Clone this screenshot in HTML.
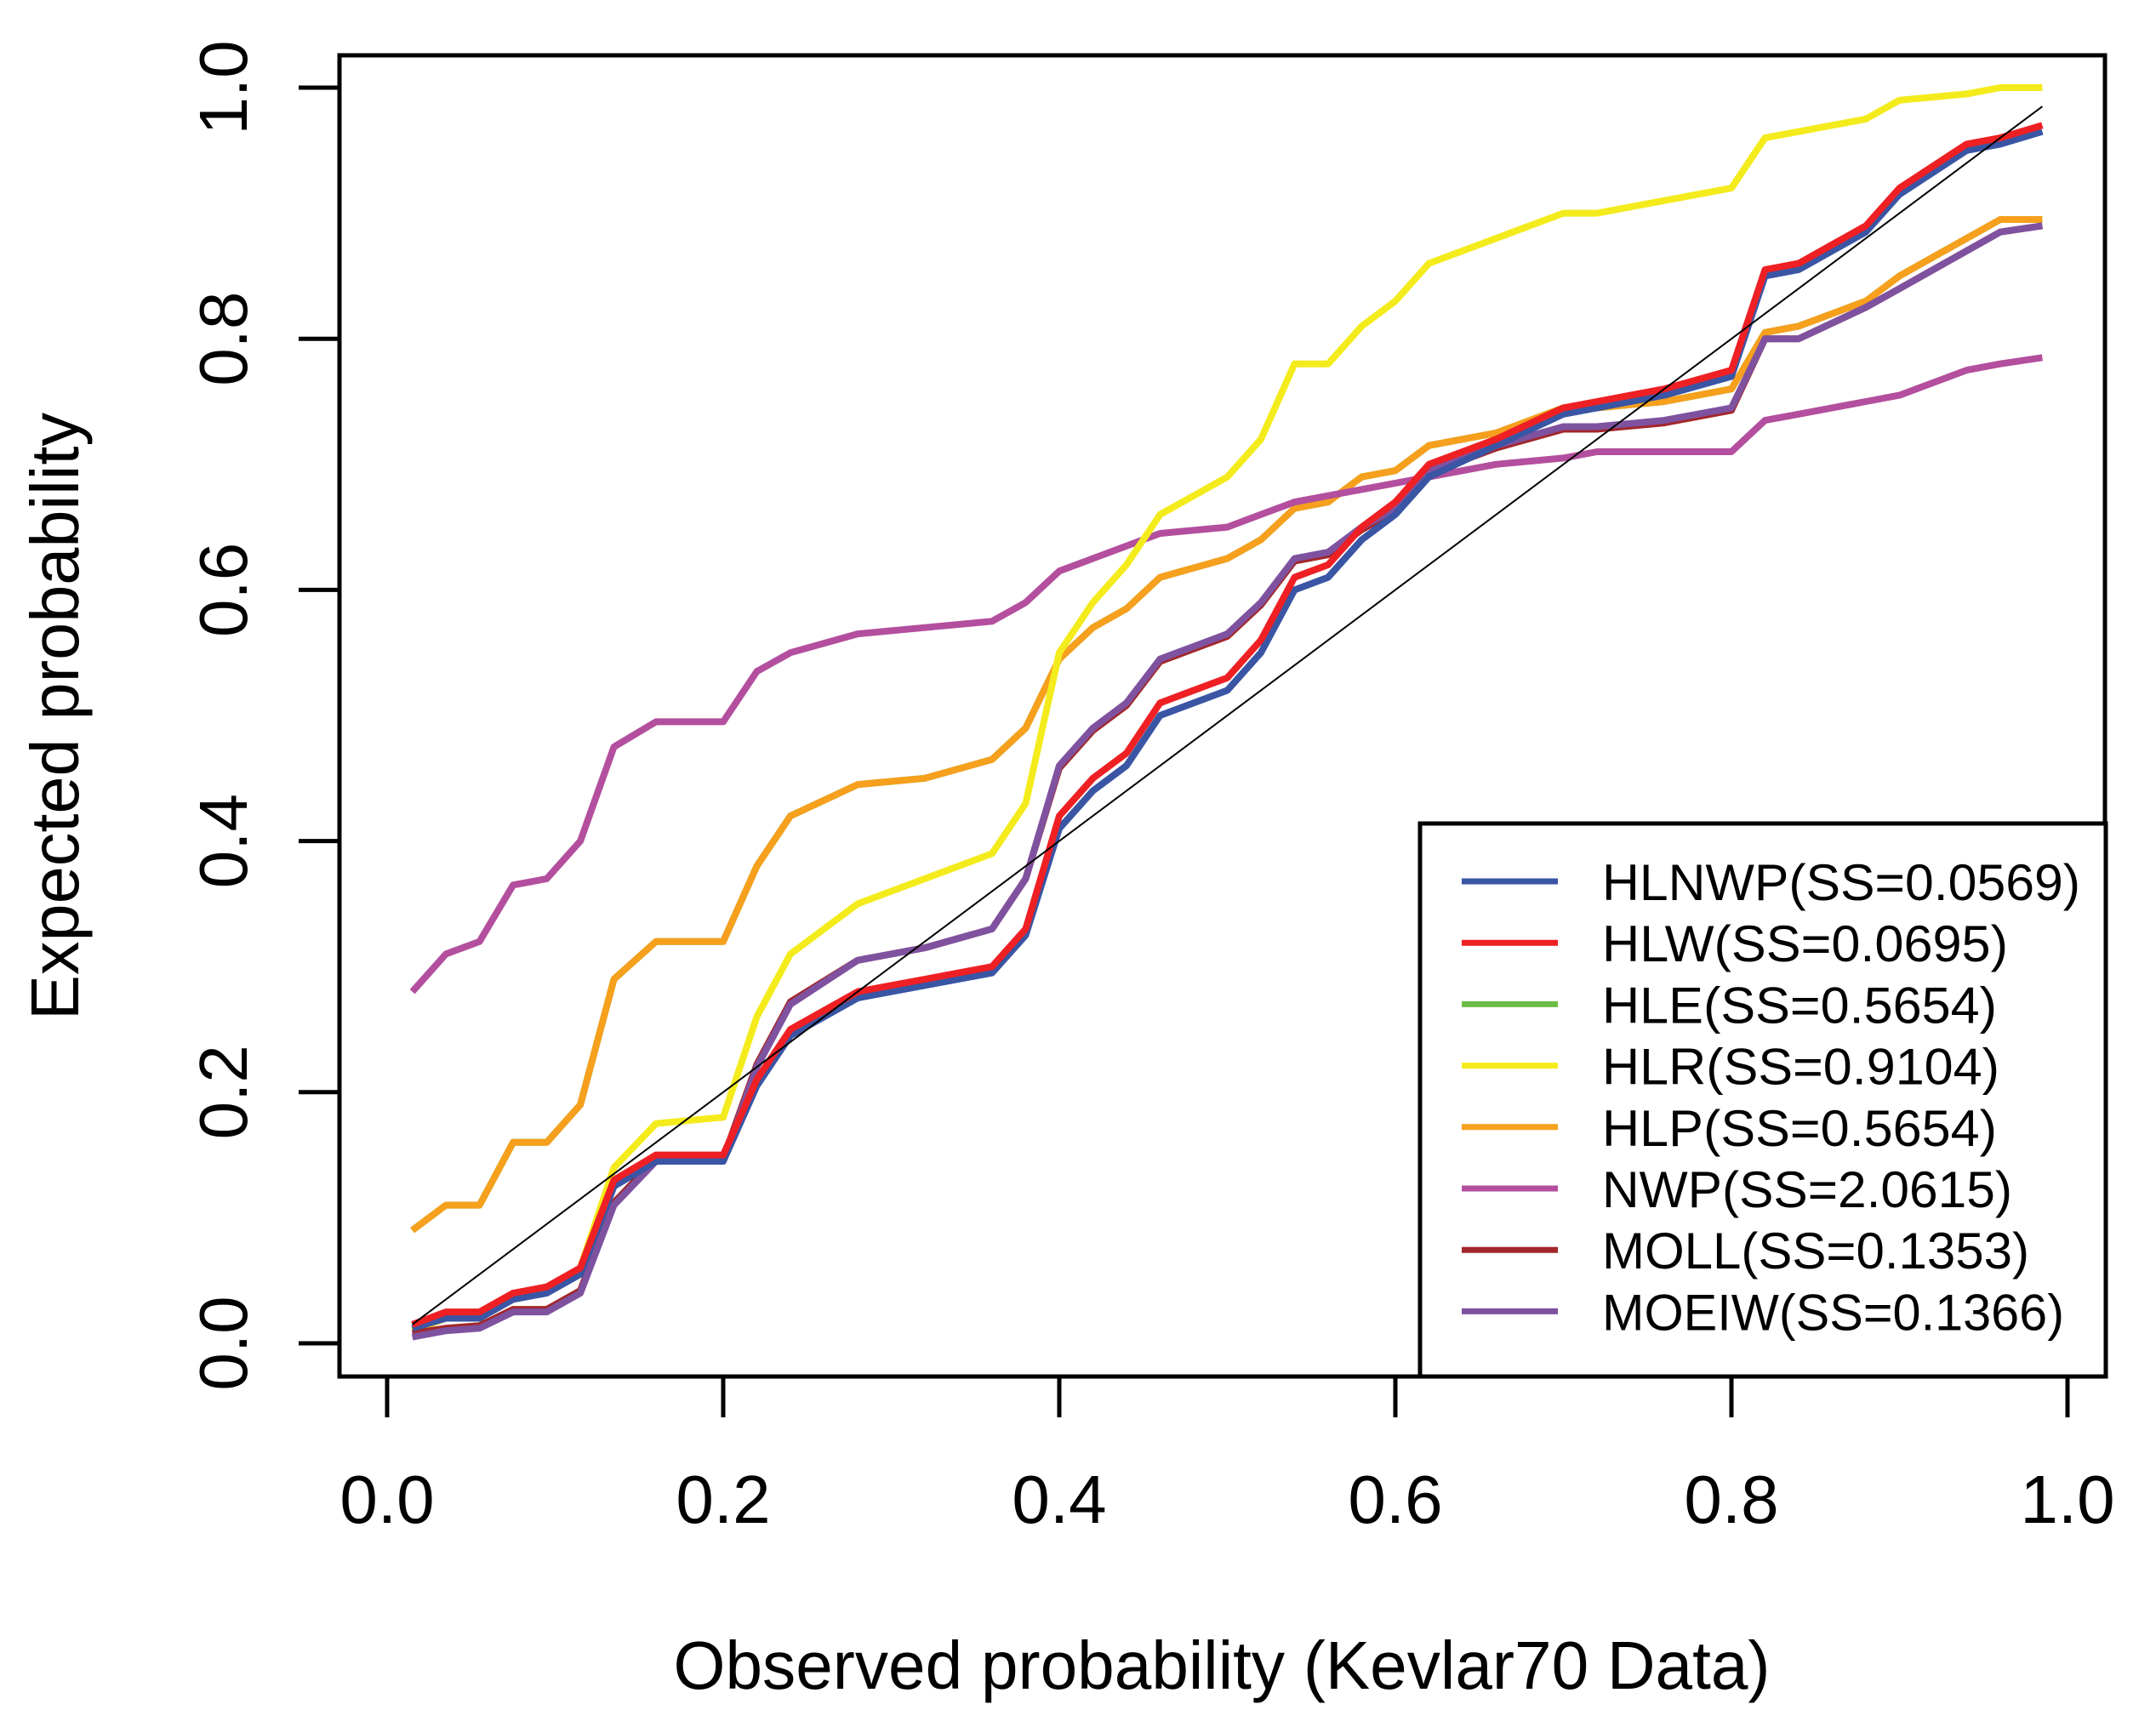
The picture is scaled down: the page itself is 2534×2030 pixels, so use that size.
<!DOCTYPE html>
<html><head><meta charset="utf-8"><style>
html,body{margin:0;padding:0;background:#fff;}
svg{display:block;font-family:"Liberation Sans",Arial,sans-serif;}
</style></head><body>
<svg id="chart" width="2534" height="2030" viewBox="0 0 2534 2030" xmlns="http://www.w3.org/2000/svg">
<rect x="0" y="0" width="2534" height="2030" fill="#fff"/>
<g id="series"></g>
<rect x="399" y="65" width="2075" height="1553" fill="none" stroke="#000" stroke-width="5"/>
<g id="xticks"></g>
<g id="yticks"></g>
<text x="1436" y="1985" font-size="80" text-anchor="middle" textLength="1289" lengthAdjust="spacingAndGlyphs">Observed probability (Kevlar70 Data)</text>
<text transform="translate(92,842) rotate(-90)" font-size="80" text-anchor="middle" textLength="714" lengthAdjust="spacingAndGlyphs">Expected probability</text>
<g id="legend">
<rect x="1669" y="968" width="806" height="650" fill="#fff" stroke="#000" stroke-width="5"/>
</g>
</svg>
<script>
const xObs=[0.015,0.035,0.055,0.075,0.095,0.115,0.135,0.16,0.2,0.22,0.24,0.28,0.32,0.36,0.38,0.40,0.42,0.44,0.46,0.50,0.52,0.54,0.56,0.58,0.60,0.62,0.66,0.70,0.72,0.76,0.80,0.82,0.84,0.88,0.90,0.94,0.96,0.985];
const yHLNWP=[0.012,0.02,0.02,0.035,0.04,0.055,0.125,0.145,0.145,0.205,0.245,0.275,0.285,0.295,0.325,0.41,0.44,0.46,0.5,0.52,0.55,0.6,0.61,0.64,0.66,0.69,0.715,0.74,0.745,0.755,0.77,0.85,0.855,0.885,0.915,0.95,0.955,0.965];
const yHLW=[0.015,0.025,0.025,0.04,0.045,0.06,0.13,0.15,0.15,0.21,0.25,0.28,0.29,0.30,0.33,0.42,0.45,0.47,0.51,0.53,0.56,0.61,0.62,0.65,0.67,0.70,0.72,0.745,0.75,0.76,0.775,0.855,0.86,0.89,0.92,0.955,0.96,0.97];
const yHLE=[0.09,0.11,0.11,0.16,0.16,0.19,0.29,0.32,0.32,0.38,0.42,0.445,0.45,0.465,0.49,0.545,0.57,0.585,0.61,0.625,0.64,0.665,0.67,0.69,0.695,0.715,0.725,0.745,0.745,0.75,0.76,0.805,0.81,0.83,0.85,0.88,0.895,0.895];
const yHLR=[0.01,0.02,0.02,0.04,0.04,0.06,0.14,0.175,0.18,0.26,0.31,0.35,0.37,0.39,0.43,0.55,0.59,0.62,0.66,0.69,0.72,0.78,0.78,0.81,0.83,0.86,0.88,0.90,0.90,0.91,0.92,0.96,0.965,0.975,0.99,0.995,1.0,1.0];
const yHLP=[0.09,0.11,0.11,0.16,0.16,0.19,0.29,0.32,0.32,0.38,0.42,0.445,0.45,0.465,0.49,0.545,0.57,0.585,0.61,0.625,0.64,0.665,0.67,0.69,0.695,0.715,0.725,0.745,0.745,0.75,0.76,0.805,0.81,0.83,0.85,0.88,0.895,0.895];
const yNWP=[0.28,0.31,0.32,0.365,0.37,0.40,0.475,0.495,0.495,0.535,0.55,0.565,0.57,0.575,0.59,0.615,0.625,0.635,0.645,0.65,0.66,0.67,0.675,0.68,0.685,0.69,0.70,0.705,0.71,0.71,0.71,0.735,0.74,0.75,0.755,0.775,0.78,0.785];
const yMOLL=[0.008,0.012,0.014,0.027,0.027,0.042,0.112,0.147,0.147,0.222,0.272,0.305,0.315,0.33,0.37,0.458,0.488,0.508,0.543,0.563,0.588,0.623,0.628,0.648,0.663,0.693,0.713,0.728,0.728,0.733,0.743,0.8,0.8,0.825,0.84,0.87,0.885,0.89];
const yMOEIW=[0.005,0.01,0.012,0.025,0.025,0.04,0.11,0.145,0.145,0.22,0.27,0.305,0.315,0.33,0.37,0.46,0.49,0.51,0.545,0.565,0.59,0.625,0.63,0.65,0.665,0.695,0.715,0.73,0.73,0.735,0.745,0.80,0.80,0.825,0.84,0.87,0.885,0.89];
const seriesNames=["HLNWP(SS=0.0569)","HLW(SS=0.0695)","HLE(SS=0.5654)","HLR(SS=0.9104)","HLP(SS=0.5654)","NWP(SS=2.0615)","MOLL(SS=0.1353)","MOEIW(SS=0.1366)"];
const tickVals=[0,0.2,0.4,0.6,0.8,1.0];
const tickLabels=["0.0","0.2","0.4","0.6","0.8","1.0"];

const NS="http://www.w3.org/2000/svg";
const X0=455,X1=2430,Y0=1579,Y1=103;
function sx(v){return X0+v*(X1-X0);}
function sy(v){return Y0-v*(Y0-Y1);}
function mk(tag,attrs,parent){const e=document.createElementNS(NS,tag);for(const k in attrs)e.setAttribute(k,attrs[k]);parent.appendChild(e);return e;}

const seriesData=[yHLNWP,yHLW,yHLE,yHLR,yHLP,yNWP,yMOLL,yMOEIW];
const colors=["#3a55a4","#ee2024","#6cbd45","#f4eb1c","#f6a01d","#b34f9e","#a2272a","#7f52a0"];
const keys=["hlnwp","hlw","hle","hlr","hlp","nwp","moll","moeiw"];
const drawOrder=[2,4,5,3,6,7,0,1];
const sg=document.getElementById('series');
drawOrder.forEach(i=>{
  const pts=xObs.map((x,j)=>sx(x).toFixed(1)+","+sy(seriesData[i][j]).toFixed(1)).join(" ");
  const pl=mk('polyline',{points:pts,fill:"none",stroke:colors[i],"stroke-width":8,"stroke-linejoin":"round"},sg);
  
  
});
const diag=mk('line',{x1:sx(0.015),y1:sy(0.015),x2:sx(0.985),y2:sy(0.985),stroke:"#000","stroke-width":2},sg);



const xg=document.getElementById('xticks');
const yg=document.getElementById('yticks');
tickVals.forEach((v,i)=>{
  const t=mk('line',{x1:sx(v),y1:1618,x2:sx(v),y2:1666,stroke:"#000","stroke-width":5},xg);
  
  
  const l=mk('text',{x:sx(v),y:1790,"font-size":80,"text-anchor":"middle"},xg);
  l.textContent=tickLabels[i];
  
  
  const t2=mk('line',{x1:351,y1:sy(v),x2:399,y2:sy(v),stroke:"#000","stroke-width":5},yg);
  
  
  const l2=mk('text',{transform:"translate(290,"+sy(v)+") rotate(-90)","font-size":80,"text-anchor":"middle"},yg);
  l2.textContent=tickLabels[i];
  
  
});

const lg=document.getElementById('legend');
const widths=[562,477,464,467,464,482,502,543];
seriesNames.forEach((n,i)=>{
  const y=1036+i*72.2;
  const ln=mk('line',{x1:1718,y1:y,x2:1831,y2:y,stroke:colors[i],"stroke-width":7},lg);
  
  
  const tx=mk('text',{x:1883,y:y+22,"font-size":60,textLength:widths[i],lengthAdjust:"spacingAndGlyphs"},lg);
  tx.textContent=n;
  
  
});
</script>
</body></html>
